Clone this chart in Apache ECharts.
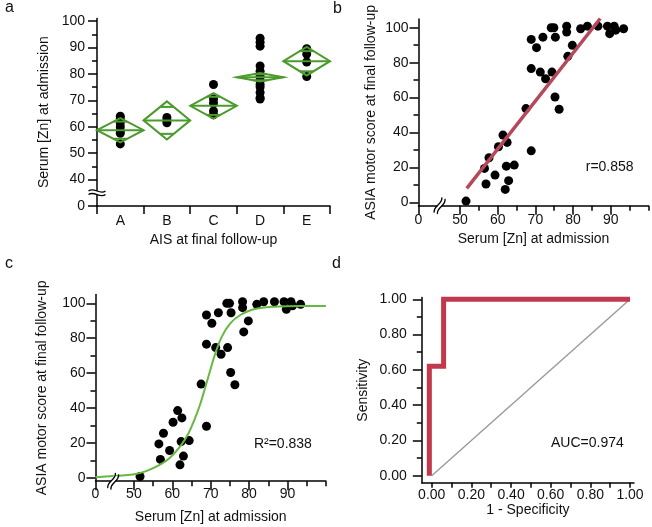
<!DOCTYPE html>
<html><head><meta charset="utf-8">
<script src="https://cdn.jsdelivr.net/npm/echarts@6/dist/echarts.min.js"></script>
<style>html,body{margin:0;padding:0;background:#fff}#chart{width:652px;height:527px}</style>
</head><body><div id="chart"></div>
<script>
// ---------- Panel a ----------
const aisCategories = ['A', 'B', 'C', 'D', 'E'];
const znA = [64, 63, 61.5, 60, 58.5, 57.5, 53.5];
const znB = [63.5, 62.5, 61.5];
const znC = [76, 70.5, 69, 66, 64.5];
const znD = [93.5, 92, 90.5, 83, 81, 79, 77.5, 76, 75, 73, 71, 70.5];
const znE = [89.5, 87.5, 84.5, 79];
const groupMeans = [58.7, 62.4, 67.9, 78.7, 84.8];
const groupCIHalf = [4.6, 7.2, 4.85, 1.6, 5.4];
const aYMajorTicks = [30, 40, 50, 60, 70, 80, 90, 100];
const aYMajorTexts = ['0', '40', '50', '60', '70', '80', '90', '100'];
const aYMinorTicks = [45, 55, 65, 75, 85, 95];
const aBreakY = 35;

// ---------- Panels b & c (same patients) ----------
const zinc = [51.6, 56.5, 57.7, 56.9, 59.3, 60.2, 61.4, 62.5, 62.3, 62.9, 62.0, 64.4, 67.5, 68.9, 68.9, 68.9,
  70.3, 71.3, 72.0, 72.7, 74.2, 74.9, 74.4, 75.3, 75.2, 76.3, 78.3, 78.3, 78.6, 79.8, 82.0, 83.8, 86.6,
  89.1, 89.7, 90.9, 91.3, 93.4];
const motor = [0.7, 19.4, 25.5, 10.5, 15.6, 31.8, 38.5, 34.3, 20.7, 12.4, 7.4, 21.3, 53.7, 29.5, 93.3, 76.6,
  88.6, 74.6, 94.6, 70.8, 100, 100, 74.6, 94.6, 60.3, 53.3, 100.9, 97.5, 83.6, 89.9, 99.4, 100.9, 100.9,
  100.9, 96.6, 100.9, 98.6, 99.4];
const regZn = [51.8, 87.2];
const regMotor = [8, 105.3];
const fitZn = [40, 45.4, 49.7, 53.2, 56.7, 59.4, 62.0, 64.2, 65.9, 67.2, 68.5, 69.9, 71.2, 72.9, 75.1, 77.7, 81.2, 86.5, 93.5, 100];
const fitMotor = [0.2, 1.1, 1.9, 3.8, 7.3, 11.5, 17.8, 25.4, 34, 41.7, 51.2, 61.8, 71.3, 80.9, 88.5, 93.3, 96.6, 98.1, 98.5, 98.5];
const bXMin = 39, cXMin = 40;
const bcXMajorTicks = [50, 60, 70, 80, 90];
const bcXMinorTicks = [55, 65, 75, 85, 95, 100];
const bcYMajorTicks = [0, 20, 40, 60, 80, 100];
const bcYMinorTicks = [10, 30, 50, 70, 90];
const bcBreakX = 44.6;

// ---------- Panel d ----------
const rocFpr = [-0.012, -0.012, 0.06, 0.06, 1.0];
const rocTpr = [0, 0.62, 0.62, 1.0, 1.0];
const diagX = [0, 1];
const diagY = [0, 1];
const dXTicks = [0, 0.1, 0.2, 0.3, 0.4, 0.5, 0.6, 0.7, 0.8, 0.9, 1.0];
const dMajor = [0, 0.2, 0.4, 0.6, 0.8, 1.0];
const dYMinor = [0.1, 0.3, 0.5, 0.7, 0.9];

// annotations
const annoText = ['r=0.858', 'R\u00b2=0.838', 'AUC=0.974'];
const annoX = [89.7, 88.8, 0.785];
const annoY = [20.3, 19.4, 0.185];

// ---------- styling ----------
const FONT = "'Liberation Sans', Arial, Helvetica, sans-serif";
const INK = '#111';
const GREEN_D = '#4b9a2c';
const GREEN_C = '#66b843';
const REG_RED = '#b5495b';
const ROC_RED = '#c2384d';
const lineSt = { color: '#000', width: 1.5 };
const lbl = (extra) => Object.assign({ fontFamily: FONT, fontSize: 14, color: INK }, extra);
const nameSt = { fontFamily: FONT, fontSize: 14, color: INK };

function breakGroup(cx, cy, rot) {
  const w = 8.5, amp = 2.2, gap = 3.6;
  const wave = (dy) => ({ type: 'bezierCurve',
    shape: { x1: -w, y1: dy, x2: w, y2: dy, cpx1: -w / 3, cpy1: dy - amp * 2, cpx2: w / 3, cpy2: dy + amp * 2 },
    style: { stroke: '#000', lineWidth: 1.3, fill: null } });
  return { type: 'group', x: cx, y: cy, rotation: rot, children: [
    { type: 'rect', shape: { x: -w * 0.7, y: -gap / 2, width: w * 1.4, height: gap }, style: { fill: '#fff' } },
    wave(-gap / 2), wave(gap / 2) ] };
}

function majorMinorY(grid, min, max, major, texts, minor, name, gap, margin, fmt) {
  return [
    { gridIndex: grid, type: 'value', min: min, max: max, position: 'left',
      axisLine: { show: true, onZero: false, lineStyle: lineSt },
      axisTick: { show: true, length: 9, customValues: major, lineStyle: lineSt },
      axisLabel: lbl({ margin: margin, customValues: major,
        formatter: fmt || ((v) => texts[major.indexOf(v)]) }),
      splitLine: { show: false },
      name: name, nameLocation: 'middle', nameGap: gap, nameTextStyle: nameSt },
    { gridIndex: grid, type: 'value', min: min, max: max, position: 'left',
      axisLine: { show: false, onZero: false },
      axisTick: { show: true, length: 5, customValues: minor, lineStyle: lineSt },
      axisLabel: { show: false }, splitLine: { show: false } }
  ];
}

function bcX(grid, xmin, gap, margin) {
  const major = [xmin].concat(bcXMajorTicks);
  return [
    { gridIndex: grid, type: 'value', min: xmin, max: 100, position: 'bottom',
      axisLine: { show: true, onZero: false, lineStyle: lineSt },
      axisTick: { show: true, length: 9, customValues: major, lineStyle: lineSt },
      axisLabel: lbl({ margin: margin, customValues: major, formatter: (v) => v === xmin ? '0' : String(v) }),
      splitLine: { show: false },
      name: 'Serum [Zn] at admission', nameLocation: 'middle', nameGap: gap, nameTextStyle: nameSt },
    { gridIndex: grid, type: 'value', min: xmin, max: 100, position: 'bottom',
      axisLine: { show: false, onZero: false },
      axisTick: { show: true, length: 5, customValues: bcXMinorTicks, lineStyle: lineSt },
      axisLabel: { show: false }, splitLine: { show: false } }
  ];
}

const aPoints = [];
[znA, znB, znC, znD, znE].forEach((arr, i) => arr.forEach((v) => aPoints.push([i, v])));
const bcPoints = zinc.map((z, i) => [z, motor[i]]);
const zipXY = (xs, ys) => xs.map((x, i) => [x, ys[i]]);

const xAxes = [
  { gridIndex: 0, type: 'category', data: aisCategories, position: 'bottom',
    axisLine: { show: true, onZero: false, lineStyle: lineSt },
    axisTick: { show: true, length: 8, alignWithLabel: false, lineStyle: lineSt },
    axisLabel: lbl({ margin: 8 }),
    name: 'AIS at final follow-up', nameLocation: 'middle', nameGap: 27, nameTextStyle: nameSt },
  ...bcX(1, bXMin, 26, 7),
  ...bcX(2, cXMin, 29, 6),
  { gridIndex: 3, type: 'value', min: -0.05, max: 1.02, position: 'bottom',
    axisLine: { show: true, onZero: false, lineStyle: lineSt },
    axisTick: { show: true, length: 5, customValues: dXTicks, lineStyle: lineSt },
    axisLabel: lbl({ margin: 5, customValues: dMajor, formatter: (v) => v.toFixed(2) }),
    splitLine: { show: false },
    name: '1 - Specificity', nameLocation: 'middle', nameGap: 19, nameTextStyle: nameSt }
];
const yAxes = [
  ...majorMinorY(0, 30, 101, aYMajorTicks, aYMajorTexts, aYMinorTicks, 'Serum [Zn] at admission', 46, 12),
  ...majorMinorY(1, -2, 105, bcYMajorTicks, bcYMajorTicks.map(String), bcYMinorTicks, 'ASIA motor score at final follow-up', 40, 10),
  ...majorMinorY(2, -2, 105, bcYMajorTicks, bcYMajorTicks.map(String), bcYMinorTicks, 'ASIA motor score at final follow-up', 46, 10),
  ...majorMinorY(3, -0.04, 1.01, dMajor, null, dYMinor, 'Sensitivity', 52, 15, (v) => v.toFixed(2))
];

function annoSeries(xi, yi, k) {
  return { type: 'custom', xAxisIndex: xi, yAxisIndex: yi, z: 5, silent: true,
    data: [[annoX[k], annoY[k]]],
    renderItem: (p, api) => {
      const c = api.coord([api.value(0), api.value(1)]);
      return { type: 'text', x: c[0], y: c[1], style: { text: annoText[k], textAlign: 'center', textVerticalAlign: 'middle',
        fontFamily: FONT, fontSize: 14, fill: INK } };
    } };
}

const option = {
  animation: false,
  backgroundColor: '#fff',
  title: [
    { text: 'a', left: 5, top: 0, padding: 0, textStyle: { fontFamily: FONT, fontSize: 16, fontWeight: 'normal', color: INK } },
    { text: 'b', left: 333, top: 1, padding: 0, textStyle: { fontFamily: FONT, fontSize: 16, fontWeight: 'normal', color: INK } },
    { text: 'c', left: 5, top: 256, padding: 0, textStyle: { fontFamily: FONT, fontSize: 16, fontWeight: 'normal', color: INK } },
    { text: 'd', left: 332, top: 256, padding: 0, textStyle: { fontFamily: FONT, fontSize: 16, fontWeight: 'normal', color: INK } }
  ],
  grid: [
    { left: 97, top: 18.4, width: 233, height: 187.6, outerBoundsMode: 'none' },
    { left: 418.5, top: 19, width: 230, height: 186.8, outerBoundsMode: 'none' },
    { left: 95.5, top: 294.6, width: 230.4, height: 186.6, outerBoundsMode: 'none' },
    { left: 421.8, top: 297.5, width: 212.2, height: 185.3, outerBoundsMode: 'none' }
  ],
  xAxis: xAxes,
  yAxis: yAxes,
  series: [
    { type: 'scatter', xAxisIndex: 0, yAxisIndex: 0, data: aPoints, symbolSize: 9, itemStyle: { color: '#000', opacity: 1 }, z: 2 },
    { type: 'custom', xAxisIndex: 0, yAxisIndex: 0, z: 3, silent: true,
      data: groupMeans.map((m, i) => [i, m, groupCIHalf[i]]),
      renderItem: (p, api) => {
        const i = api.value(0), m = api.value(1), h = api.value(2);
        const c = api.coord([i, m]);
        const top = api.coord([i, m + h])[1], bot = api.coord([i, m - h])[1];
        const hw = api.size([1, 0])[0] / 2;
        const l = c[0] - hw, r = c[0] + hw;
        const k = Math.SQRT1_2;
        const oy = (bot - top) / 2 * k, ow = hw * (1 - k);
        const st = { stroke: GREEN_D, lineWidth: 2, fill: null };
        return { type: 'group', children: [
          { type: 'polygon', shape: { points: [[l, c[1]], [c[0], top], [r, c[1]], [c[0], bot]] }, style: st },
          { type: 'line', shape: { x1: l, y1: c[1], x2: r, y2: c[1] }, style: st },
          { type: 'line', shape: { x1: c[0] - ow, y1: c[1] - oy, x2: c[0] + ow, y2: c[1] - oy }, style: st },
          { type: 'line', shape: { x1: c[0] - ow, y1: c[1] + oy, x2: c[0] + ow, y2: c[1] + oy }, style: st }
        ] };
      } },
    { type: 'custom', xAxisIndex: 0, yAxisIndex: 0, z: 6, silent: true, data: [[0, aBreakY]],
      renderItem: (p, api) => {
        const c = api.coord([0, api.value(1)]);
        return breakGroup(c[0] - api.size([1, 0])[0] / 2, c[1], 0);
      } },
    { type: 'scatter', xAxisIndex: 1, yAxisIndex: 2, data: bcPoints, symbolSize: 9, itemStyle: { color: '#000', opacity: 1 }, z: 2 },
    { type: 'line', xAxisIndex: 1, yAxisIndex: 2, data: zipXY(regZn, regMotor), showSymbol: false, symbol: 'none',
      lineStyle: { color: REG_RED, width: 3.5 }, z: 3 },
    { type: 'custom', xAxisIndex: 1, yAxisIndex: 2, z: 6, silent: true, data: [[bcBreakX, -2]],
      renderItem: (p, api) => { const c = api.coord([api.value(0), api.value(1)]); return breakGroup(c[0], c[1], 1.11); } },
    annoSeries(1, 2, 0),
    { type: 'scatter', xAxisIndex: 3, yAxisIndex: 4, data: bcPoints, symbolSize: 9, itemStyle: { color: '#000', opacity: 1 }, z: 2 },
    { type: 'line', xAxisIndex: 3, yAxisIndex: 4, data: zipXY(fitZn, fitMotor), smooth: 0.4, showSymbol: false, symbol: 'none',
      lineStyle: { color: GREEN_C, width: 2 }, z: 3 },
    { type: 'custom', xAxisIndex: 3, yAxisIndex: 4, z: 6, silent: true, data: [[bcBreakX, -2]],
      renderItem: (p, api) => { const c = api.coord([api.value(0), api.value(1)]); return breakGroup(c[0], c[1], 1.11); } },
    annoSeries(3, 4, 1),
    { type: 'line', xAxisIndex: 5, yAxisIndex: 6, data: zipXY(diagX, diagY), showSymbol: false, symbol: 'none',
      lineStyle: { color: '#999999', width: 1.4 }, z: 2 },
    { type: 'line', xAxisIndex: 5, yAxisIndex: 6, data: zipXY(rocFpr, rocTpr), showSymbol: false, symbol: 'none',
      lineStyle: { color: ROC_RED, width: 5, cap: 'butt', join: 'miter' }, z: 3 },
    annoSeries(5, 6, 2)
  ]
};
const chart = echarts.init(document.getElementById('chart'), null, { renderer: 'canvas' });
chart.setOption(option);
</script>
</body></html>
